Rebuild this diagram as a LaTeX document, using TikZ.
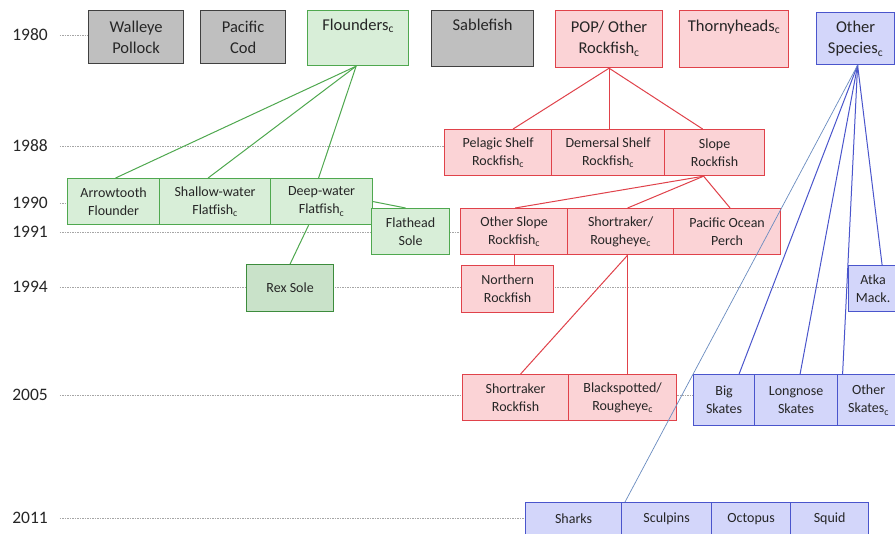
\documentclass[tikz,border=0pt]{standalone}
\usepackage{fontspec}
\setmainfont{Carlito}
\usetikzlibrary{calc}
\definecolor{gfill}{HTML}{BFBFBF}
\definecolor{gline}{HTML}{404040}
\definecolor{grfill}{HTML}{D8EED8}
\definecolor{grline}{HTML}{4FA84F}
\definecolor{rxfill}{HTML}{C9E2C9}
\definecolor{rxline}{HTML}{3C8C3C}
\definecolor{rdfill}{HTML}{FBD3D6}
\definecolor{rdline}{HTML}{E0424A}
\definecolor{blfill}{HTML}{D3D6FA}
\definecolor{blline}{HTML}{4A55CC}
\definecolor{shline}{HTML}{6A8CC0}
\definecolor{txt}{HTML}{262626}
\tikzset{
  box/.style={draw, line width=1.2pt, inner sep=0pt, align=center, anchor=north west, text=txt},
  big/.style={font=\fontsize{16.5}{21}\selectfont},
  small/.style={font=\fontsize{14}{18}\selectfont},
  graybox/.style={box, big, fill=gfill, draw=gline},
  greenbox/.style={box, fill=grfill, draw=grline},
  rexbox/.style={box, fill=rxfill, draw=rxline},
  redbox/.style={box, fill=rdfill, draw=rdline},
  bluebox/.style={box, fill=blfill, draw=blline},
  year/.style={font=\fontsize{17.5}{20}\selectfont, text=txt, inner sep=0pt},
  yearline/.style={draw=gray!70, line width=0.8pt, dash pattern=on 1.5pt off 1pt},
  gcon/.style={draw=grline, line width=1pt},
  rcon/.style={draw=rdline, line width=1pt},
  bcon/.style={draw=blline, line width=1pt},
  scon/.style={draw=shline, line width=0.7pt},
}
\newcommand\sbc{\textsubscript{c}}
\begin{document}
\begin{tikzpicture}[x=1pt,y=-1pt]
\useasboundingbox (0,0) rectangle (895,534);
\fill[white] (0,0) rectangle (895,534);
% years
\node[year] (y1980) at (30,35) {1980};
\node[year] (y1988) at (30,146) {1988};
\node[year] (y1990) at (30,203) {1990};
\node[year] (y1991) at (30,232) {1991};
\node[year] (y1994) at (30,287) {1994};
\node[year] (y2005) at (30,395) {2005};
\node[year] (y2011) at (30,518) {2011};
% top row
\node[graybox, minimum width=95pt, minimum height=53pt] (wp) at (88,10) {Walleye\\Pollock};
\node[graybox, minimum width=85pt, minimum height=53pt] (pc) at (200,10) {Pacific\\Cod};
\node[greenbox, big, minimum width=101pt, minimum height=55pt] (flo) at (307,10) {Flounders\sbc\\\strut};
\node[graybox, minimum width=102pt, minimum height=56pt] (sab) at (431,10) {Sablefish\\\strut};
\node[redbox, big, minimum width=107pt, minimum height=57pt] (pop) at (555,10) {POP/ Other\\Rockfish\sbc};
\node[redbox, big, minimum width=109pt, minimum height=57pt] (thr) at (679,10) {Thornyheads\sbc\\\strut};
\node[bluebox, big, minimum width=78pt, minimum height=52pt] (os) at (816,12) {Other\\Species\sbc};
% year lines (behind boxes)
\draw[yearline] ([xshift=12pt]y1980.east) -- (wp.west |- y1980);
\draw[yearline] ([xshift=12pt]y1988.east) -- (444,146) coordinate (e1988);
\draw[yearline] ([xshift=12pt]y1990.east) -- (67,203) coordinate (e1990);
\draw[yearline] ([xshift=12pt]y1991.east) -- (460,232) coordinate (e1991);
\draw[yearline] ([xshift=12pt]y1994.east) -- (848,287) coordinate (e1994);
\draw[yearline] ([xshift=12pt]y2005.east) -- (693,395) coordinate (e2005);
\draw[yearline] ([xshift=12pt]y2011.east) -- (525,518) coordinate (e2011);
% 1988 row
\node[redbox, small, minimum width=107pt, minimum height=46pt] (pel) at (444,129) {Pelagic Shelf\\Rockfish\sbc};
\node[redbox, small, minimum width=113pt, minimum height=46pt] (dem) at (551,129) {Demersal Shelf\\Rockfish\sbc};
\node[redbox, small, minimum width=100pt, minimum height=46pt] (slo) at (664,129) {Slope\\Rockfish};
% 1990 row
\node[greenbox, small, minimum width=92pt, minimum height=46pt] (arr) at (67,178) {Arrowtooth\\Flounder};
\node[greenbox, small, minimum width=111pt, minimum height=46pt] (shw) at (159,178) {Shallow-water\\Flatfish\sbc};
\node[greenbox, small, minimum width=102pt, minimum height=46pt] (dw) at (270,178) {Deep-water\\Flatfish\sbc};
\node[greenbox, small, minimum width=78pt, minimum height=46pt] (fh) at (371,208) {Flathead\\Sole};
\node[rexbox, small, minimum width=87pt, minimum height=47pt] (rex) at (246,264) {Rex Sole};
% 1991 row
\node[redbox, small, minimum width=107pt, minimum height=46pt] (osr) at (460,208) {Other Slope\\Rockfish\sbc};
\node[redbox, small, minimum width=106pt, minimum height=46pt] (sr) at (567,208) {Shortraker/\\Rougheye\sbc};
\node[redbox, small, minimum width=107pt, minimum height=46pt] (pope) at (673,208) {Pacific Ocean\\Perch};
\node[redbox, small, minimum width=92pt, minimum height=47pt] (nr) at (461,265) {Northern\\Rockfish};
\node[bluebox, small, minimum width=49pt, minimum height=46pt] (atka) at (848,265) {Atka\\Mack.};
% 2005 row
\node[redbox, small, minimum width=106pt, minimum height=46pt] (srk) at (462,374) {Shortraker\\Rockfish};
\node[redbox, small, minimum width=108pt, minimum height=46pt] (bsr) at (568,374) {Blackspotted/\\Rougheye\sbc};
\node[bluebox, small, minimum width=61pt, minimum height=51pt] (bs) at (693,374) {Big\\Skates};
\node[bluebox, small, minimum width=83pt, minimum height=51pt] (ls) at (754,374) {Longnose\\Skates};
\node[bluebox, small, minimum width=62pt, minimum height=51pt] (ots) at (837,374) {Other\\Skates\sbc};
% 2011 row
\node[bluebox, small, minimum width=96pt, minimum height=32pt] (shk) at (525,502) {Sharks};
\node[bluebox, small, minimum width=90pt, minimum height=32pt] (scu) at (621,502) {Sculpins};
\node[bluebox, small, minimum width=79pt, minimum height=32pt] (oct) at (711,502) {Octopus};
\node[bluebox, small, minimum width=78pt, minimum height=32pt] (sq) at (790,502) {Squid};
% green connectors
\draw[gcon] ([xshift=-2pt]flo.south) -- ([xshift=2pt]arr.north);
\draw[gcon] ([xshift=-2pt]flo.south) -- ([xshift=-7pt]shw.north);
\draw[gcon] ([xshift=-2pt]flo.south) -- ([xshift=-3pt]dw.north);
\draw[gcon] (dw.east) -- ([xshift=-5pt]fh.north);
\draw[gcon] ([xshift=-13pt]dw.south) -- (rex.north);
% red connectors
\draw[rcon] (pop.south) -- ([xshift=15pt]pel.north);
\draw[rcon] (pop.south) -- (pop.south |- dem.north);
\draw[rcon] (pop.south) -- ([xshift=-12pt]slo.north);
\draw[rcon] ([xshift=-11pt]slo.south) -- ([xshift=1pt]osr.north);
\draw[rcon] ([xshift=-11pt]slo.south) -- ([xshift=7pt]sr.north);
\draw[rcon] ([xshift=-11pt]slo.south) -- ([xshift=3pt]pope.north);
\draw[rcon] (osr.south) -- (osr.south |- nr.north);
\draw[rcon] ([xshift=7pt]sr.south) -- ([xshift=5pt]srk.north);
\draw[rcon] ([xshift=7pt]sr.south) coordinate (srb) -- (srb |- bsr.north);
% blue connectors
\draw[bcon] ([xshift=2pt]os.south) -- ([xshift=9pt]atka.north);
\draw[bcon] ([xshift=2pt]os.south) -- ([xshift=-26pt]ots.north);
\draw[bcon] ([xshift=2pt]os.south) -- ([xshift=4pt]ls.north);
\draw[bcon] ([xshift=2pt]os.south) -- ([xshift=15pt]bs.north);
\draw[scon] ([xshift=2pt]os.south) -- ([xshift=4pt]scu.north west);
\end{tikzpicture}
\end{document}
